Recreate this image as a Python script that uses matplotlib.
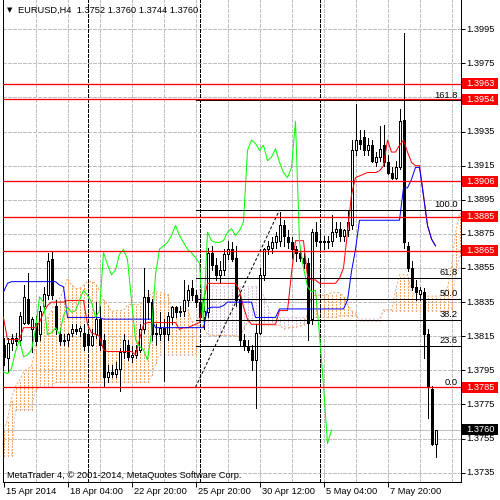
import matplotlib
matplotlib.use("Agg")
import matplotlib.pyplot as plt
from matplotlib.patches import Rectangle
import matplotlib.transforms as mtransforms

plt.rcParams['font.family'] = ['Liberation Sans', 'DejaVu Sans']
plt.rcParams['lines.scale_dashes'] = False

# ---------------- data ----------------
title_text = "EURUSD,H4  1.3752 1.3760 1.3744 1.3760"
watermark = "MetaTrader 4, \u00a9 2001-2014, MetaQuotes Software Corp."

opens = [
    1.3810, 1.3802, 1.3811, 1.3814, 1.3813, 1.3823, 1.3837, 1.3819, 1.3823, 1.3816,
    1.3833, 1.3839, 1.3860, 1.3833, 1.3816, 1.3812, 1.3813, 1.3817, 1.3819, 1.3818,
    1.3817, 1.3816, 1.3810, 1.3816, 1.3825, 1.3813, 1.3791, 1.3794, 1.3793, 1.3796,
    1.3806, 1.3810, 1.3803, 1.3804, 1.3807, 1.3819, 1.3838, 1.3835, 1.3816, 1.3816,
    1.3820, 1.3816, 1.3826, 1.3832, 1.3829, 1.3830, 1.3836, 1.3843, 1.3839, 1.3835,
    1.3826, 1.3829, 1.3864, 1.3857, 1.3851, 1.3854, 1.3863, 1.3866, 1.3861, 1.3836,
    1.3813, 1.3809, 1.3807, 1.3801, 1.3817, 1.3851, 1.3866, 1.3867, 1.3870, 1.3871,
    1.3880, 1.3873, 1.3870, 1.3866, 1.3864, 1.3861, 1.3858, 1.3825, 1.3876, 1.3871,
    1.3871, 1.3870, 1.3871, 1.3876, 1.3878, 1.3874, 1.3877, 1.3880, 1.3924, 1.3930,
    1.3932, 1.3924, 1.3927, 1.3917, 1.3920, 1.3927, 1.3917, 1.3911, 1.3908, 1.3914,
    1.3942, 1.3868, 1.3855, 1.3844, 1.3840, 1.3841, 1.3816, 1.3784, 1.3752]
highs = [
    1.3814, 1.3814, 1.3816, 1.3817, 1.3829, 1.3845, 1.3852, 1.3826, 1.3827, 1.3833,
    1.3844, 1.3864, 1.3865, 1.3836, 1.3820, 1.3816, 1.3817, 1.3822, 1.3822, 1.3821,
    1.3822, 1.3819, 1.3819, 1.3835, 1.3833, 1.3816, 1.3798, 1.3798, 1.3800, 1.3808,
    1.3816, 1.3813, 1.3809, 1.3810, 1.3822, 1.3855, 1.3842, 1.3837, 1.3822, 1.3829,
    1.3825, 1.3829, 1.3833, 1.3833, 1.3833, 1.3848, 1.3845, 1.3848, 1.3842, 1.3839,
    1.3833, 1.3867, 1.3868, 1.3861, 1.3859, 1.3866, 1.3871, 1.3870, 1.3868, 1.3839,
    1.3816, 1.3813, 1.3810, 1.3822, 1.3855, 1.3867, 1.3871, 1.3873, 1.3876, 1.3888,
    1.3883, 1.3877, 1.3873, 1.3868, 1.3867, 1.3864, 1.3861, 1.3878, 1.3882, 1.3876,
    1.3874, 1.3874, 1.3886, 1.3882, 1.3882, 1.3878, 1.3889, 1.3930, 1.3951, 1.3936,
    1.3936, 1.3931, 1.3930, 1.3923, 1.3938, 1.3939, 1.3921, 1.3914, 1.3918, 1.3948,
    1.3993, 1.3870, 1.3859, 1.3848, 1.3844, 1.3843, 1.3819, 1.3786, 1.3760]
lows = [
    1.3798, 1.3794, 1.3807, 1.3810, 1.3810, 1.3822, 1.3822, 1.3806, 1.3810, 1.3813,
    1.3830, 1.3837, 1.3837, 1.3816, 1.3810, 1.3810, 1.3809, 1.3815, 1.3816, 1.3815,
    1.3807, 1.3807, 1.3809, 1.3814, 1.3807, 1.3785, 1.3788, 1.3791, 1.3791, 1.3783,
    1.3802, 1.3801, 1.3800, 1.3802, 1.3806, 1.3817, 1.3825, 1.3813, 1.3810, 1.3813,
    1.3789, 1.3813, 1.3822, 1.3826, 1.3827, 1.3827, 1.3833, 1.3836, 1.3832, 1.3825,
    1.3819, 1.3826, 1.3854, 1.3848, 1.3847, 1.3851, 1.3860, 1.3859, 1.3833, 1.3810,
    1.3807, 1.3806, 1.3795, 1.3773, 1.3816, 1.3848, 1.3863, 1.3864, 1.3867, 1.3868,
    1.3868, 1.3867, 1.3861, 1.3859, 1.3859, 1.3855, 1.3813, 1.3822, 1.3868, 1.3867,
    1.3866, 1.3867, 1.3868, 1.3873, 1.3871, 1.3871, 1.3874, 1.3878, 1.3921, 1.3925,
    1.3921, 1.3921, 1.3917, 1.3915, 1.3918, 1.3915, 1.3910, 1.3907, 1.3907, 1.3913,
    1.3867, 1.3853, 1.3842, 1.3836, 1.3836, 1.3802, 1.3767, 1.3751, 1.3744]
closes = [
    1.3803, 1.3811, 1.3814, 1.3812, 1.3827, 1.3838, 1.3823, 1.3825, 1.3812, 1.3830,
    1.3840, 1.3859, 1.3839, 1.3819, 1.3812, 1.3813, 1.3816, 1.3819, 1.3818, 1.3820,
    1.3809, 1.3810, 1.3815, 1.3825, 1.3810, 1.3791, 1.3794, 1.3793, 1.3796, 1.3806,
    1.3813, 1.3803, 1.3804, 1.3807, 1.3819, 1.3838, 1.3835, 1.3816, 1.3817, 1.3820,
    1.3816, 1.3827, 1.3832, 1.3829, 1.3830, 1.3836, 1.3842, 1.3839, 1.3835, 1.3826,
    1.3830, 1.3864, 1.3857, 1.3851, 1.3854, 1.3863, 1.3866, 1.3860, 1.3836, 1.3813,
    1.3809, 1.3807, 1.3801, 1.3817, 1.3851, 1.3866, 1.3868, 1.3870, 1.3874, 1.3880,
    1.3874, 1.3870, 1.3866, 1.3864, 1.3861, 1.3858, 1.3823, 1.3876, 1.3871, 1.3870,
    1.3870, 1.3871, 1.3876, 1.3878, 1.3874, 1.3877, 1.3882, 1.3924, 1.3930, 1.3928,
    1.3924, 1.3927, 1.3918, 1.3920, 1.3925, 1.3917, 1.3911, 1.3908, 1.3914, 1.3941,
    1.3870, 1.3855, 1.3844, 1.3841, 1.3842, 1.3816, 1.3786, 1.3752, 1.3760]

tenkan = [
    1.3826, 1.3813, 1.3813, 1.3813, 1.3813, 1.3820, 1.3820, 1.3820, 1.3820, 1.3823,
    1.3829, 1.3833, 1.3835, 1.3835, 1.3835, 1.3835, 1.3836, 1.3836, 1.3836, 1.3836,
    1.3836, 1.3822, 1.3817, 1.3816, 1.3815, 1.3807, 1.3806, 1.3806, 1.3806, 1.3806,
    1.3806, 1.3806, 1.3806, 1.3804, 1.3813, 1.3822, 1.3823, 1.3823, 1.3823, 1.3823,
    1.3823, 1.3823, 1.3823, 1.3823, 1.3819, 1.3820, 1.3820, 1.3821, 1.3822, 1.3823,
    1.3836, 1.3846, 1.3846, 1.3846, 1.3846, 1.3846, 1.3846, 1.3846, 1.3846, 1.3842,
    1.3832, 1.3825, 1.3822, 1.3822, 1.3822, 1.3822, 1.3822, 1.3822, 1.3822, 1.3830,
    1.3830, 1.3830, 1.3852, 1.3871, 1.3871, 1.3871, 1.3850, 1.3848, 1.3848, 1.3846,
    1.3846, 1.3846, 1.3846, 1.3846, 1.3849, 1.3855, 1.3876, 1.3898, 1.3908, 1.3909,
    1.3910, 1.3911, 1.3911, 1.3911, 1.3912, 1.3915, 1.3930, 1.3923, 1.3923, 1.3927,
    1.3930, 1.3923, 1.3917, 1.3915, 1.3915, 1.3898, 1.3880, 1.3872, 1.3868]
kijun = [
    1.3841, 1.3846, 1.3847, 1.3847, 1.3847, 1.3847, 1.3847, 1.3847, 1.3847, 1.3847,
    1.3847, 1.3847, 1.3847, 1.3847, 1.3845, 1.3844, 1.3826, 1.3826, 1.3826, 1.3826,
    1.3826, 1.3826, 1.3826, 1.3826, 1.3826, 1.3825, 1.3825, 1.3825, 1.3825, 1.3825,
    1.3825, 1.3825, 1.3825, 1.3825, 1.3825, 1.3825, 1.3825, 1.3825, 1.3820, 1.3820,
    1.3820, 1.3820, 1.3820, 1.3820, 1.3820, 1.3820, 1.3820, 1.3820, 1.3820, 1.3820,
    1.3820, 1.3831, 1.3832, 1.3832, 1.3832, 1.3833, 1.3835, 1.3835, 1.3835, 1.3835,
    1.3835, 1.3835, 1.3835, 1.3826, 1.3826, 1.3826, 1.3826, 1.3826, 1.3826, 1.3831,
    1.3831, 1.3831, 1.3831, 1.3831, 1.3831, 1.3831, 1.3831, 1.3831, 1.3831, 1.3831,
    1.3831, 1.3831, 1.3831, 1.3831, 1.3831, 1.3831, 1.3836, 1.3853, 1.3866, 1.3883,
    1.3883, 1.3883, 1.3883, 1.3883, 1.3883, 1.3883, 1.3883, 1.3883, 1.3883, 1.3883,
    1.3902, 1.3902, 1.3907, 1.3914, 1.3914, 1.3897, 1.3880, 1.3872, 1.3868]
span_a = [
    1.3760, 1.3766, 1.3778, 1.3786, 1.3789, 1.3794, 1.3796, 1.3797, 1.3810, 1.3822,
    1.3824, 1.3826, 1.3830, 1.3836, 1.3837, 1.3842, 1.3849, 1.3845, 1.3843, 1.3843,
    1.3845, 1.3847, 1.3847, 1.3846, 1.3842, 1.3836, 1.38335, 1.38295, 1.3830, 1.3830,
    1.3830, 1.38335, 1.38335, 1.38335, 1.38335, 1.3835, 1.3838, 1.3840, 1.3841, 1.3841,
    1.3840, 1.38395, 1.3831, 1.3831, 1.3831, 1.3831, 1.3831, 1.3824, 1.38215, 1.3821,
    1.38205, 1.3816, 1.38155, 1.38155, 1.38155, 1.38155, 1.38155, 1.38155, 1.38155, 1.38145,
    1.3819, 1.38235, 1.3824, 1.3824, 1.38215, 1.38215, 1.38215, 1.38215, 1.38215, 1.38215,
    1.38195, 1.3820, 1.3820, 1.38205, 1.3821, 1.38215, 1.3828, 1.38385, 1.3839, 1.3839,
    1.3839, 1.38395, 1.38405, 1.38405, 1.38405, 1.38385, 1.38335, 1.3830, 1.38285, 1.3824,
    1.3824, 1.3824, 1.3824, 1.3824, 1.3824, 1.38305, 1.38305, 1.38305, 1.38415, 1.3851,
    1.3851, 1.3851, 1.38405, 1.38395, 1.38395, 1.38385, 1.38385, 1.38385, 1.38385, 1.38385,
    1.3840, 1.3843, 1.3856, 1.38755, 1.3887]
span_b = [
    1.3745, 1.3745, 1.3745, 1.3772, 1.3772, 1.3772, 1.3772, 1.3772, 1.3784, 1.3785,
    1.3785, 1.3785, 1.3785, 1.3788, 1.3788, 1.3788, 1.3788, 1.3788, 1.3788, 1.3788,
    1.3788, 1.3788, 1.3788, 1.3788, 1.3788, 1.3788, 1.3788, 1.3788, 1.3788, 1.3788,
    1.3788, 1.3788, 1.3788, 1.3788, 1.3788, 1.3788, 1.3788, 1.3792, 1.3799, 1.3804,
    1.3804, 1.3804, 1.3804, 1.3804, 1.3804, 1.3804, 1.3804, 1.3804, 1.3804, 1.3844,
    1.3844, 1.3844, 1.3844, 1.3844, 1.3844, 1.3844, 1.3844, 1.3844, 1.3844, 1.3844,
    1.3844, 1.3844, 1.3844, 1.3844, 1.3844, 1.3839, 1.3833, 1.3826, 1.3826, 1.3826,
    1.3826, 1.3826, 1.3826, 1.3826, 1.3826, 1.3826, 1.3826, 1.3826, 1.3826, 1.3826,
    1.3826, 1.3826, 1.3826, 1.3826, 1.3827, 1.3827, 1.3827, 1.3827, 1.3827, 1.3825,
    1.3825, 1.3825, 1.3825, 1.3825, 1.3825, 1.3830, 1.3830, 1.3830, 1.3830, 1.3830,
    1.3830, 1.3830, 1.3830, 1.3830, 1.3830, 1.3830, 1.3830, 1.3830, 1.3830, 1.3830,
    1.3830, 1.3830, 1.3831, 1.3852, 1.3862]
chikou_shift = 26

time_tick_bars = [0, 16, 32, 48, 64, 80, 96]
time_tick_labels = ["15 Apr 2014", "18 Apr 04:00", "22 Apr 20:00", "25 Apr 20:00",
                    "30 Apr 12:00", "5 May 04:00", "7 May 20:00"]
grid_bars = [8, 16, 24, 32, 40, 48, 56, 64, 72, 80, 88, 96, 104, 112]
separator_bars = [21, 49, 79]
price_ticks = [1.3995, 1.3975, 1.3955, 1.3935, 1.3915, 1.3895, 1.3875, 1.3855,
               1.3835, 1.3815, 1.3795, 1.3775, 1.3755, 1.3735]
red_levels = [1.3963, 1.3954, 1.3906, 1.3885, 1.3865, 1.3785]
bid_price = 1.3760
fib_levels = [0.0, 23.6, 38.2, 50.0, 61.8, 100.0, 161.8]
fib_price_0 = 1.3785
fib_price_100 = 1.3889
fib_bar_0 = 48
fib_bar_100 = 69

# ---------------- styling ----------------
PX = 0.72  # points per pixel at dpi 100
FS = 6.7
GRID = '#C0C0C0'
ORANGE = '#F4A460'
THISTLE = '#D8BFD8'
YLO, YHI = 1.372949, 1.401218

fig = plt.figure(figsize=(5, 5), dpi=100)
fig.patch.set_facecolor('white')
ax = fig.add_axes([2.5 / 500, 18 / 500, 458 / 500, 482 / 500])
x0, x1 = -0.25, 114.25
ax.set_xlim(x0, x1)
ax.set_ylim(YLO, YHI)
ax.set_facecolor('white')

for s in ['left', 'right', 'bottom']:
    ax.spines[s].set_color('black')
    ax.spines[s].set_linewidth(1 * PX)
ax.spines['top'].set_visible(False)

ax.set_xticks(time_tick_bars)
ax.set_yticks(price_ticks)
ax.yaxis.tick_right()
ax.tick_params(axis='x', direction='out', length=5 * PX, width=1 * PX, labelbottom=False)
ax.tick_params(axis='y', direction='out', length=4 * PX, width=1 * PX,
               labelright=False, labelleft=False, left=False, right=True)

dash_grid = (0, (3 * PX, 2 * PX))
# grid
ax.hlines(price_ticks, x0, x1, colors=GRID, linestyles=[dash_grid], linewidth=1 * PX,
          zorder=1, antialiased=False)
ax.vlines(grid_bars, YLO, YHI, colors=GRID, linestyles=[dash_grid], linewidth=1 * PX,
          zorder=1, antialiased=False)
# bid line
ax.axhline(bid_price, color=GRID, linewidth=1 * PX, zorder=1.2, antialiased=False)

# cloud (dotted histogram between the two spans)
n_cloud = len(span_a)
for i in range(n_cloud):
    a, b = span_a[i], span_b[i]
    col = ORANGE if a >= b else THISTLE
    ax.vlines(i, min(a, b), max(a, b), colors=col, linestyles=[(0, (2 * PX, 2 * PX))],
              linewidth=1 * PX, zorder=2, antialiased=False)
ax.plot(range(n_cloud), span_a, color=ORANGE, linewidth=1 * PX, dashes=(2 * PX, 2 * PX),
        zorder=2.1)
ax.plot(range(n_cloud), span_b, color=THISTLE, linewidth=1 * PX, dashes=(2 * PX, 2 * PX),
        zorder=2.1)

# separators
ax.vlines(separator_bars, YLO, YHI, colors='black',
          linestyles=[(0, (3 * PX, 2 * PX))], linewidth=1.4 * PX, zorder=2.5, antialiased=False)

# candles
n = len(opens)
ax.vlines(range(n), lows, highs, colors='black', linewidth=1 * PX, zorder=3, antialiased=False)
bw = 0.5
for i in range(n):
    o, c = opens[i], closes[i]
    lo, hi = min(o, c), max(o, c)
    h = max(hi - lo, 0.00003)
    face = 'white' if c > o else 'black'
    ax.add_patch(Rectangle((i - bw / 2, lo), bw, h, facecolor=face, edgecolor='black',
                           linewidth=1 * PX, zorder=3.1, antialiased=False))

# ichimoku lines
ax.plot(range(n), tenkan, color='red', linewidth=1 * PX, zorder=4)
ax.plot(range(n), kijun, color='blue', linewidth=1 * PX, zorder=4.1)
ax.plot(range(n - chikou_shift), closes[chikou_shift:], color='#00FF00', linewidth=1 * PX, zorder=4.2)

# fibonacci
blend = mtransforms.blended_transform_factory(ax.transAxes, ax.transData)
rng = fib_price_100 - fib_price_0
for lv in fib_levels:
    p = fib_price_0 + rng * lv / 100.0
    ax.hlines(p, fib_bar_0, x1, colors='black', linewidth=1 * PX, zorder=5, antialiased=False)
    ax.text(0.9945, p + 0.00005, f"{lv:.1f}", transform=blend,
            ha='right', va='bottom', fontsize=FS, color='black', zorder=6)
ax.plot([fib_bar_0, fib_bar_100], [fib_price_0, fib_price_100], color='black', linewidth=1 * PX,
        dashes=(3 * PX, 2 * PX), zorder=5)

# red horizontal lines
for p in red_levels:
    ax.axhline(p, color='red', linewidth=1.3 * PX, zorder=5.5)

# right axis labels (1.3955 is covered by the 1.3954 marker in the original)
off = mtransforms.ScaledTranslation(5.5 / 100, 0, fig.dpi_scale_trans)
box_h = 11 / 17050.0
for p in price_ticks:
    if any(abs(p - r) < box_h for r in red_levels):
        continue
    ax.text(1.0, p, f"{p:.4f}", transform=blend + off, ha='left', va='center',
            fontsize=FS, color='black', clip_on=False)

box_x = (462 - 2.5) / 458
box_w = 36 / 458


def price_box(p, col):
    ax.add_patch(Rectangle((box_x, p - box_h / 2), box_w, box_h, transform=blend,
                           facecolor=col, edgecolor='none', clip_on=False, zorder=10))
    ax.text(1.0, p, f"{p:.4f}", transform=blend + off, ha='left', va='center',
            fontsize=FS, color='white', clip_on=False, zorder=11)


for p in red_levels:
    price_box(p, 'red')
price_box(bid_price, 'black')

# bottom labels
blend_x = mtransforms.blended_transform_factory(ax.transData, ax.transAxes)
offx = mtransforms.ScaledTranslation(3 / 100, 0, fig.dpi_scale_trans)
for b, lab in zip(time_tick_bars, time_tick_labels):
    ax.text(b, -9 / 482, lab, transform=blend_x + offx, ha='left', va='center',
            fontsize=FS, color='black', clip_on=False)

# title & watermark
fig.text(7 / 500, 1 - 10.5 / 500, "\u25bc", fontsize=5, family='DejaVu Sans', va='center', ha='left')
fig.text(18 / 500, 1 - 10.5 / 500, title_text, fontsize=FS, va='center', ha='left')
ax.text(7 / 500, 1 - 475 / 500, watermark, transform=fig.transFigure, fontsize=FS,
        va='center', ha='left', zorder=12)

fig.savefig('out.png', dpi=100, facecolor='white')
